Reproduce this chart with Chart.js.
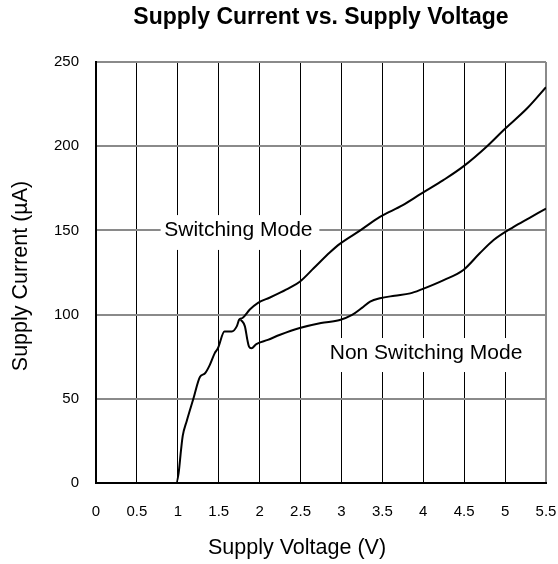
<!DOCTYPE html>
<html><head><meta charset="utf-8">
<script src="https://cdn.jsdelivr.net/npm/chart.js@4"></script>
<style>html,body{margin:0;padding:0;background:#fff}#wrap{width:558px;height:564px}</style>
</head><body><div id="wrap"><canvas id="c" width="558" height="564"></canvas></div>
<script>
const chartTitle = 'Supply Current vs. Supply Voltage';
const xAxisTitle = 'Supply Voltage (V)';
const yAxisTitle = 'Supply Current (µA)';
const xTickLabels = ['0','0.5','1','1.5','2','2.5','3','3.5','4','4.5','5','5.5'];
const yTickLabels = ['0','50','100','150','200','250'];
const switchingVolts = [0, 0.98, 1.01, 1.04, 1.06, 1.11, 1.19, 1.27, 1.33, 1.39, 1.45, 1.49, 1.57, 1.66, 1.72, 1.75, 1.79, 1.88, 1.98, 2.12, 2.25, 2.37, 2.49, 2.66, 2.86, 2.98, 3.23, 3.47, 3.75, 3.98, 4.25, 4.49, 4.78, 4.98, 5.27, 5.5];
const switchingCurrent = [0, 0, 6, 20, 28, 37, 50, 63, 65, 70, 77, 80, 90, 90, 93, 97, 98, 103, 107, 110, 113, 116, 119.5, 127.5, 137, 142, 150, 158, 165, 172, 180, 188, 200, 209.5, 222.5, 235];
const nonSwitchingVolts = [1.77, 1.82, 1.85, 1.87, 1.9, 1.96, 2.1, 2.25, 2.49, 2.75, 2.98, 3.13, 3.25, 3.35, 3.47, 3.65, 3.84, 3.98, 4.25, 4.49, 4.69, 4.86, 5.1, 5.3, 5.5];
const nonSwitchingCurrent = [97, 93, 85, 81, 80, 82.5, 85, 88, 92, 95, 96.8, 99.8, 104, 107.7, 109.7, 111.2, 112.6, 115, 120.5, 126.5, 136.4, 144.3, 152, 157.5, 163];

const FONT = "'Liberation Sans', Arial, Helvetica, sans-serif";
const GRAY = '#8a8a8a';

// in-plot curve labels (text, centre and white backing box in data units)
const modeLabels = [
  {text: 'Switching Mode', x: 1.74, y: 150, box: [0.79, 2.73, 138.4, 159.1]},
  {text: 'Non Switching Mode', x: 4.034, y: 76.8, box: [2.79, 5.31, 65.9, 86.1]}
];

const labelPlugin = {
  id: 'modeLabels',
  beforeDatasetsDraw(chart) {
    const {ctx, scales: {x, y}} = chart;
    ctx.save();
    for (const L of modeLabels) {
      const x0 = x.getPixelForValue(L.box[0]), x1 = x.getPixelForValue(L.box[1]);
      const yb = y.getPixelForValue(L.box[2]), yt = y.getPixelForValue(L.box[3]);
      ctx.fillStyle = '#fff';
      ctx.fillRect(x0, yt, x1 - x0, yb - yt);
      ctx.fillStyle = '#000';
      ctx.font = '21px ' + FONT;
      ctx.textAlign = 'center';
      ctx.textBaseline = 'middle';
      ctx.fillText(L.text, x.getPixelForValue(L.x), y.getPixelForValue(L.y));
    }
    ctx.restore();
  },
  afterDraw(chart) {
    const {ctx, chartArea} = chart;
    ctx.save();
    ctx.fillStyle = '#000';
    ctx.textAlign = 'center';
    ctx.textBaseline = 'middle';
    ctx.font = 'bold 23px ' + FONT;
    ctx.fillText(chartTitle, (chartArea.left + chartArea.right) / 2, 17.5);
    ctx.font = '21.5px ' + FONT;
    ctx.fillText(xAxisTitle, 297, 548);
    ctx.translate(21.5, 276);
    ctx.rotate(-Math.PI / 2);
    ctx.fillText(yAxisTitle, 0, 0);
    ctx.restore();
  }
};

const toPts = (xs, ys) => xs.map((v, i) => ({x: v, y: ys[i]}));

new Chart(document.getElementById('c'), {
  type: 'line',
  data: {
    datasets: [
      {label: 'Switching Mode', data: toPts(switchingVolts, switchingCurrent), borderColor: '#000', borderWidth: 2, pointRadius: 0, cubicInterpolationMode: 'monotone', fill: false},
      {label: 'Non Switching Mode', data: toPts(nonSwitchingVolts, nonSwitchingCurrent), borderColor: '#000', borderWidth: 2, pointRadius: 0, cubicInterpolationMode: 'monotone', fill: false}
    ]
  },
  options: {
    responsive: false,
    animation: false,
    layout: {padding: {left: 0, right: 12, top: 62, bottom: 0}},
    plugins: {
      legend: {display: false},
      tooltip: {enabled: false},
      title: {display: false}
    },
    scales: {
      x: {
        type: 'linear',
        min: 0, max: 5.5,
        afterFit(s) { s.height = 81; s.paddingLeft = 0; s.paddingRight = 0; },
        ticks: {
          stepSize: 0.5, autoSkip: false, maxRotation: 0, padding: 20, color: '#000',
          font: {family: FONT, size: 15},
          callback: (v) => { const i = Math.round(v / 0.5); return xTickLabels[i] ?? ''; }
        },
        grid: {
          drawTicks: false,
          color: (c) => c.index === xTickLabels.length - 1 ? GRAY : '#000',
          lineWidth: (c) => c.index === xTickLabels.length - 1 ? 2 : 1
        },
        border: {display: true, color: '#000', width: 2},
        title: {display: false}
      },
      y: {
        min: 0, max: 250,
        afterFit(s) { s.width = 96; s.paddingTop = 0; s.paddingBottom = 0; },
        ticks: {
          stepSize: 50, padding: 17, color: '#000',
          font: {family: FONT, size: 15},
          callback: (v) => { const i = Math.round(v / 50); return yTickLabels[i] ?? ''; }
        },
        grid: {
          drawTicks: false,
          color: (c) => c.index === 0 ? '#000' : GRAY,
          lineWidth: 2
        },
        border: {display: true, color: '#000', width: 2},
        title: {display: false}
      }
    }
  },
  plugins: [labelPlugin]
});
</script>
</body></html>
